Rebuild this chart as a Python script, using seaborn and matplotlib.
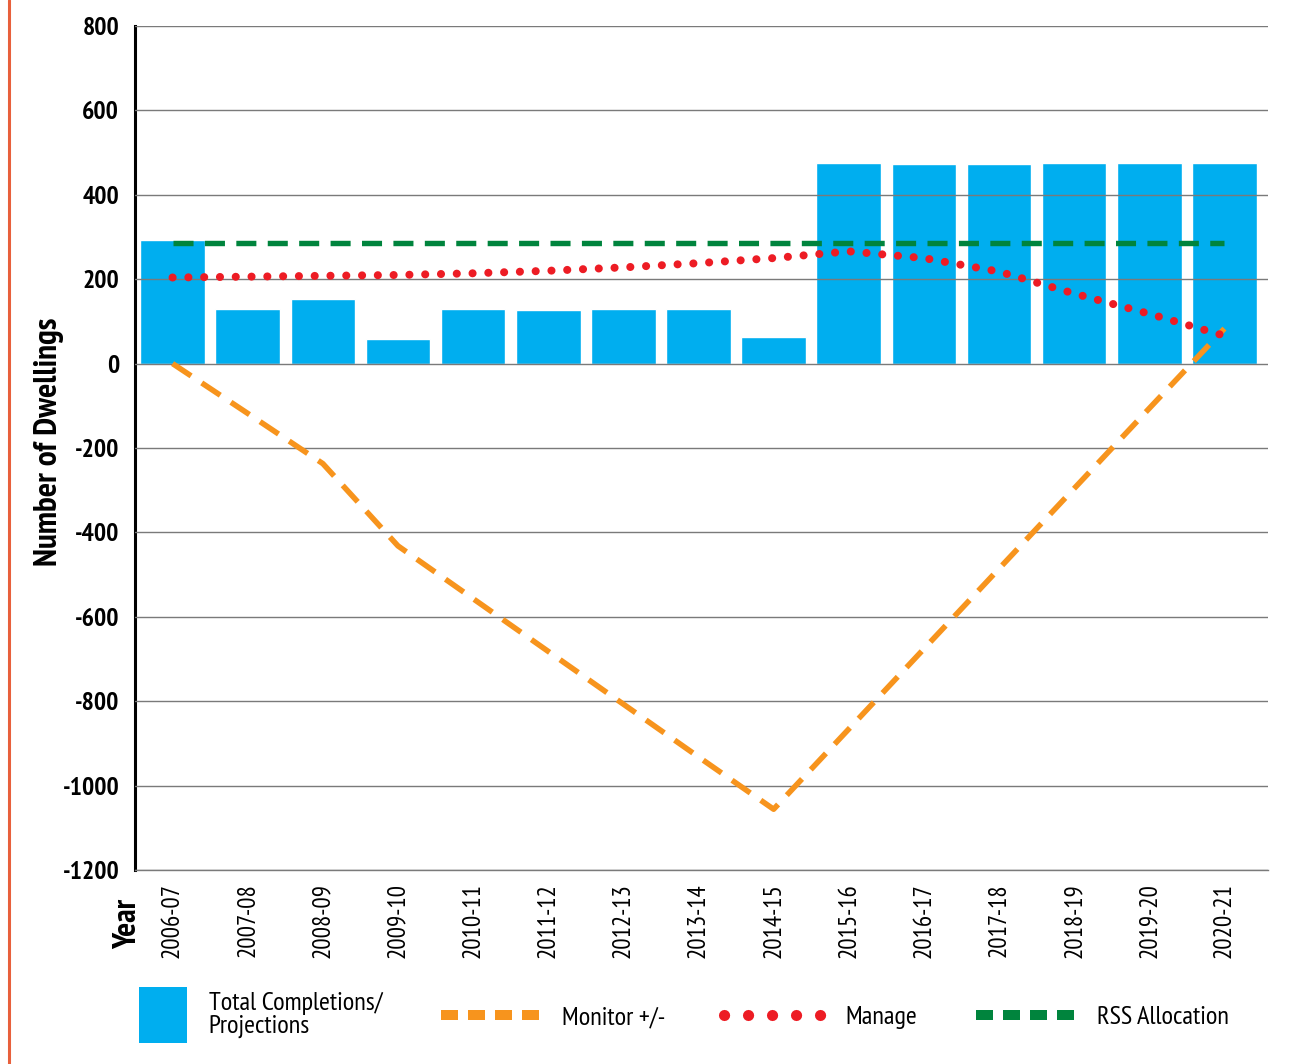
import numpy as np
import pandas as pd
import matplotlib
matplotlib.use('Agg')
import matplotlib.pyplot as plt
import seaborn as sns
from matplotlib import font_manager
from matplotlib.lines import Line2D
from matplotlib.patches import Rectangle, Patch
from matplotlib.legend_handler import HandlerPatch

years = ['2006-07', '2007-08', '2008-09', '2009-10', '2010-11', '2011-12', '2012-13',
         '2013-14', '2014-15', '2015-16', '2016-17', '2017-18', '2018-19', '2019-20', '2020-21']
completions = [292, 130, 154, 59, 130, 126, 130, 130, 64, 476, 472, 472, 476, 476, 476]
monitor = [0, -118, -237, -432, -557, -682, -807, -932, -1056, -866, -676, -486, -296, -106, 83]
manage = [204, 206, 208, 210, 214, 220, 228, 238, 250, 266, 250, 218, 166, 118, 66]
rss = [285] * 15
y_ticks = [800, 600, 400, 200, 0, -200, -400, -600, -800, -1000, -1200]
legend_labels = ['Total Completions/\nProjections', 'Monitor +/-', 'Manage', 'RSS Allocation']

C_BAR = '#00AEEF'
C_MON = '#F7941D'
C_MAN = '#ED1C24'
C_RSS = '#00843D'

sns.set_theme(style='white')
names = {f.name for f in font_manager.fontManager.ttflist}
if 'PT Sans Narrow' in names:
    plt.rcParams['font.family'] = ['PT Sans Narrow', 'DejaVu Sans']
    scale = 1.0
else:
    plt.rcParams['font.family'] = ['DejaVu Sans']
    scale = 0.75
plt.rcParams['axes.unicode_minus'] = False
for k in ['text.color', 'axes.labelcolor', 'xtick.color', 'ytick.color']:
    plt.rcParams[k] = 'black'

W, H = 1290, 1064
fig = plt.figure(figsize=(W / 100, H / 100), dpi=100)
ax = fig.add_axes([135 / W, 1 - 870 / H, 1133 / W, 844 / H])

df = pd.DataFrame({'year': years, 'completions': completions, 'monitor': monitor,
                   'manage': manage, 'rss': rss})
df['pos'] = np.arange(len(df))

sns.barplot(data=df, x='year', y='completions', color=C_BAR, saturation=1, width=0.86,
            ax=ax, zorder=1)
sns.lineplot(data=df, x='pos', y='monitor', ax=ax, color=C_MON, lw=4.0, zorder=4)
ax.lines[-1].set_linestyle((0, (4.0, 2.3)))
sns.lineplot(data=df, x='pos', y='rss', ax=ax, color=C_RSS, lw=3.9, zorder=4)
ax.lines[-1].set_linestyle((0, (3.7, 2.1)))
sns.lineplot(data=df, x='pos', y='manage', ax=ax, color=C_MAN, lw=5.8, zorder=5)
ln = ax.lines[-1]
ln.set_linestyle((0, (0.01, 1.95)))
ln.set_dash_capstyle('round')

ax.set_xlim(-0.5, 14.58)
ax.set_ylim(-1200, 800)
ax.set_yticks(y_ticks)
ax.set_yticklabels([str(v) for v in y_ticks], fontweight='bold', fontsize=18.5 * scale)
ax.set_xticks(np.arange(len(years)))
ax.set_xticklabels(years, rotation=90, fontsize=18 * scale, va='top')
ax.set_xticks(np.arange(len(years) + 1) - 0.5, minor=True)
ax.tick_params(axis='x', which='major', length=0, pad=9.5)
ax.tick_params(axis='x', which='minor', length=8.5, width=2, color='black', direction='out')
ax.tick_params(axis='y', which='major', length=8, width=1.6, color='black', direction='out', pad=3.4)
ax.set_axisbelow(False)
ax.yaxis.grid(True, color='#7a7a7a', lw=1.0, zorder=2)
ax.xaxis.grid(False)
for s in ['top', 'right']:
    ax.spines[s].set_visible(False)
ax.spines['left'].set_color('black')
ax.spines['left'].set_linewidth(2.2)
ax.spines['bottom'].set_color('#7a7a7a')
ax.spines['bottom'].set_linewidth(1.0)
ax.set_xlabel('')
ax.set_ylabel('Number of Dwellings', fontweight='bold', fontsize=24 * scale)
ax.yaxis.set_label_coords((64 - 135) / 1133, (870 - 442) / 844)
ax.text((128 - 135) / 1133, (870 - 924) / 844, 'Year', transform=ax.transAxes, rotation=90,
        ha='center', va='center', fontweight='bold', fontsize=23.5 * scale)

fig.add_artist(Line2D([9 / W, 9 / W], [0, 1], color='#E8603C', lw=2.2, transform=fig.transFigure))


def patch_func(legend, orig_handle, xdescent, ydescent, width, height, fontsize):
    w = 0.48 * width
    h = 3.0 * height
    return Rectangle((width - w - xdescent, -ydescent + height / 2 - h / 2), w, h)


handles = [
    Patch(facecolor=C_BAR, edgecolor='none'),
    Line2D([], [], color=C_MON, lw=7.2, linestyle=(0, (1.7, 1.0))),
    Line2D([], [], color=C_MAN, lw=8, linestyle=(0, (0.01, 2.15)), dash_capstyle='round'),
    Line2D([], [], color=C_RSS, lw=7.2, linestyle=(0, (1.7, 1.0))),
]
leg = fig.legend(handles, legend_labels, loc='center left', bbox_to_anchor=(74 / W, 0.046),
                 ncol=4, frameon=False, fontsize=19 * scale, handlelength=3.8 / scale,
                 handletextpad=0.8, columnspacing=2.22, borderpad=0,
                 handler_map={Patch: HandlerPatch(patch_func=patch_func)})
for t in leg.get_texts():
    t.set_linespacing(1.0)
    t.set_color('black')

fig.savefig('out.png', dpi=100, facecolor='white')
